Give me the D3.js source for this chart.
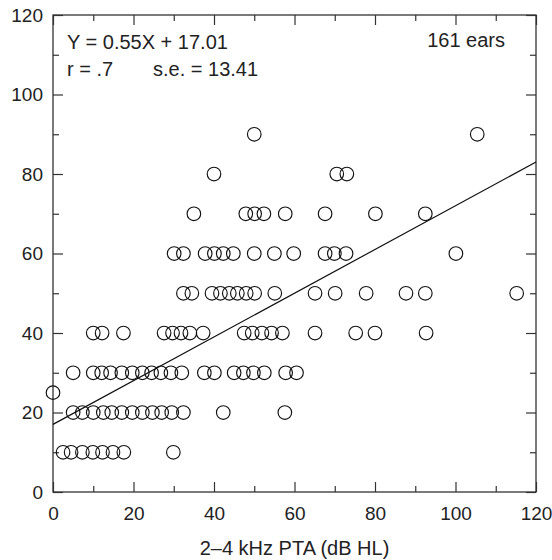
<!DOCTYPE html>
<html>
<head>
<meta charset="utf-8">
<script src="https://cdn.jsdelivr.net/npm/d3@7"></script>
<style>
  body { margin: 0; background: #fff; }
  svg text { font-family: "Liberation Sans", Arial, sans-serif; fill: #222; }
</style>
</head>
<body>
<svg id="chart" width="552" height="560"></svg>
<script>
// x values (2-4 kHz PTA) of the points in each threshold row
var row10 = [2.5, 4.5, 7.3, 9.9, 12.3, 14.9, 17.6, 29.9];
var row20 = [5.0, 7.3, 10.0, 12.5, 14.6, 17.1, 19.7, 22.2, 24.7, 27.0, 29.5, 32.4, 42.3, 57.6];
var row25 = [0];
var row30 = [5.0, 10.0, 12.1, 14.3, 17.1, 19.7, 22.2, 24.5, 26.8, 29.3, 32.0, 37.6, 40.1,
             45.0, 47.3, 49.8, 52.5, 57.8, 60.5];
var row40 = [10.0, 12.2, 17.5, 27.6, 29.7, 31.8, 34.0, 37.3, 47.5, 49.5, 51.9, 54.3, 57.0,
             65.1, 75.2, 80.0, 92.7];
var row50 = [32.4, 34.5, 39.5, 41.6, 43.8, 45.8, 48.0, 50.1, 55.1, 65.1, 70.1, 77.8, 87.7,
             92.5, 115.2];
var row60 = [30.1, 32.4, 37.8, 40.1, 42.3, 44.8, 50.0, 55.0, 59.8, 67.6, 69.9, 72.8, 100.1];
var row70 = [35.0, 47.9, 50.1, 52.4, 57.7, 67.6, 80.1, 92.5];
var row80 = [40.0, 70.5, 73.0];
var row90 = [50.0, 105.4];

var rows = [[10, row10], [20, row20], [25, row25], [30, row30], [40, row40],
            [50, row50], [60, row60], [70, row70], [80, row80], [90, row90]];

var slope = 0.55, intercept = 17.01;
var majorTicks = [0, 20, 40, 60, 80, 100, 120];
var minorTicks = [10, 30, 50, 70, 90, 110];
var xTitle = '2\u20134 kHz PTA (dB HL)';
var eqText = 'Y = 0.55X + 17.01';
var rText = 'r = .7';
var seText = 's.e. = 13.41';
var nText = '161 ears';

var points = [];
rows.forEach(function(r) {
  r[1].forEach(function(x) { points.push({x: x, y: r[0]}); });
});

// plot box (window.top is read-only, so no bare "top" here)
var pL = 53, pR = 536, pT = 15, pB = 492;
var x = d3.scaleLinear().domain([0, 120]).range([pL, pR]);
var y = d3.scaleLinear().domain([0, 120]).range([pB, pT]);

var svg = d3.select('#chart');
var axisColor = '#333';

// ticks on all four sides, pointing inward
function styleAxis(g) {
  g.select('.domain').remove();
  g.selectAll('.tick line').attr('stroke', axisColor).attr('stroke-width', 1.2);
  g.selectAll('.tick text').attr('font-size', 19).attr('fill', '#222')
    .attr('font-family', '"Liberation Sans", Arial, sans-serif');
}

svg.append('g').attr('transform', 'translate(0,' + pB + ')')
  .call(d3.axisBottom(x).tickValues(majorTicks).tickSize(-10).tickPadding(15))
  .call(styleAxis);
svg.append('g').attr('transform', 'translate(0,' + pB + ')')
  .call(d3.axisBottom(x).tickValues(minorTicks).tickSize(-6).tickFormat(''))
  .call(styleAxis);
svg.append('g').attr('transform', 'translate(0,' + pT + ')')
  .call(d3.axisTop(x).tickValues(majorTicks).tickSize(-10).tickFormat(''))
  .call(styleAxis);
svg.append('g').attr('transform', 'translate(0,' + pT + ')')
  .call(d3.axisTop(x).tickValues(minorTicks).tickSize(-6).tickFormat(''))
  .call(styleAxis);

svg.append('g').attr('transform', 'translate(' + pL + ',0)')
  .call(d3.axisLeft(y).tickValues(majorTicks).tickSize(-10).tickPadding(10))
  .call(styleAxis);
svg.append('g').attr('transform', 'translate(' + pL + ',0)')
  .call(d3.axisLeft(y).tickValues(minorTicks).tickSize(-6).tickFormat(''))
  .call(styleAxis);
svg.append('g').attr('transform', 'translate(' + pR + ',0)')
  .call(d3.axisRight(y).tickValues(majorTicks).tickSize(-10).tickFormat(''))
  .call(styleAxis);
svg.append('g').attr('transform', 'translate(' + pR + ',0)')
  .call(d3.axisRight(y).tickValues(minorTicks).tickSize(-6).tickFormat(''))
  .call(styleAxis);

// frame
svg.append('rect')
  .attr('x', pL).attr('y', pT)
  .attr('width', pR - pL).attr('height', pB - pT)
  .attr('fill', 'none').attr('stroke', axisColor).attr('stroke-width', 1.3);

// regression line
svg.append('line')
  .attr('x1', x(0)).attr('y1', y(intercept))
  .attr('x2', x(120)).attr('y2', y(slope * 120 + intercept))
  .attr('stroke', '#111').attr('stroke-width', 1.2);

// points
svg.append('g').selectAll('circle')
  .data(points).enter().append('circle')
  .attr('cx', function(d) { return x(d.x); })
  .attr('cy', function(d) { return y(d.y); })
  .attr('r', 6.8)
  .attr('fill', 'none')
  .attr('stroke', '#111')
  .attr('stroke-width', 1.15);

// annotations
svg.append('text').attr('x', 67).attr('y', 48.5).attr('font-size', 20).text(eqText);
svg.append('text').attr('x', 67).attr('y', 75.5).attr('font-size', 20).text(rText);
svg.append('text').attr('x', 153).attr('y', 75.5).attr('font-size', 20).text(seText);
svg.append('text').attr('x', 505).attr('y', 47).attr('font-size', 20)
  .attr('text-anchor', 'end').text(nText);

svg.append('text')
  .attr('x', (pL + pR) / 2).attr('y', 555)
  .attr('font-size', 20).attr('text-anchor', 'middle')
  .text(xTitle);
</script>
</body>
</html>
